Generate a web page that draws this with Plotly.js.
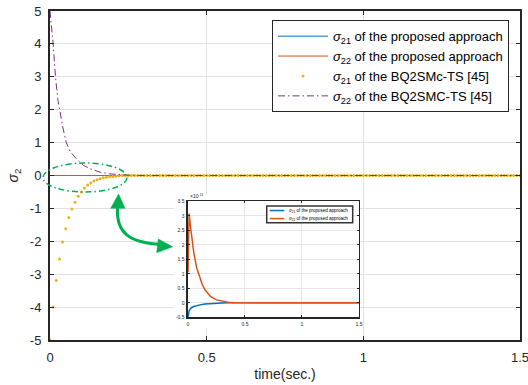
<!DOCTYPE html>
<html>
<head>
<meta charset="utf-8">
<script src="https://cdn.plot.ly/plotly-3.0.1.min.js"></script>
<style>
  html, body { margin: 0; padding: 0; background: #ffffff; }
  #chart { width: 528px; height: 385px; }
</style>
</head>
<body>
<div id="chart"></div>
<script>
// ---- proposed approach (values in units of 1e-11) ----
const tProp      = [0, 0.005, 0.01, 0.02, 0.03, 0.05, 0.075, 0.1, 0.125, 0.15, 0.2, 0.25, 0.3, 0.35, 0.4, 0.5, 0.75, 1.0, 1.25, 1.5];
const sig21Prop  = [-0.5, -0.35, -0.28, -0.21, -0.17, -0.13, -0.1, -0.075, -0.055, -0.04, -0.02, -0.01, -0.004, 0, 0, 0, 0, 0, 0, 0];
const sig22Prop  = [1.05, 2.6, 3.08, 2.7, 2.35, 1.75, 1.22, 0.9, 0.63, 0.44, 0.21, 0.1, 0.05, 0.02, 0.01, 0, 0, 0, 0, 0];
const propScale  = 1e-11;

// ---- BQ2SMC-TS [45] ----
// sigma_21: sampled every 0.01 s; the transient below, zero afterwards up to 1.5 s
const bqStep          = 0.01;
const bqEnd           = 1.5;
const sig21BQTransient = [-5.0, -4.0, -3.19, -2.54, -2.02, -1.62, -1.28, -1.02, -0.81, -0.63, -0.50,
                          -0.38, -0.29, -0.23, -0.17, -0.13, -0.10, -0.07, -0.05, -0.04, -0.03, -0.02, -0.01];
// sigma_22: dash-dot curve
const tBQ22   = [0, 0.005, 0.01, 0.0175, 0.025, 0.031, 0.04, 0.052, 0.065, 0.085, 0.108, 0.13, 0.16, 0.19, 0.215, 0.25, 0.3, 1.5];
const sig22BQ = [5.0, 4.5, 4.0, 3.0, 2.3, 2.0, 1.5, 1.0, 0.72, 0.5, 0.3, 0.2, 0.1, 0.05, 0.03, 0.01, 0, 0];

// ---- ticks ----
const xTicks     = [0, 0.5, 1, 1.5];
const xTickText  = ['0', '0.5', '1', '1.5'];
const yTicks     = [-5, -4, -3, -2, -1, 0, 1, 2, 3, 4, 5];
const yTickText  = ['-5', '-4', '-3', '-2', '-1', '0', '1', '2', '3', '4', '5'];
const insetXTicks    = [0, 0.5, 1, 1.5];
const insetXTickText = ['0', '0.5', '1', '1.5'];
const insetYTicks    = [-0.5, 0, 0.5, 1, 1.5, 2, 2.5, 3, 3.5];
const insetYTickText = ['-0.5', '0', '0.5', '1', '1.5', '2', '2.5', '3', '3.5'];

// ---- legend labels ----
const labels = [
  '<i>σ</i><sub>21</sub> of the proposed approach',
  '<i>σ</i><sub>22</sub> of the proposed approach',
  '<i>σ</i><sub>21</sub> of the BQ2SMc-TS [45]',
  '<i>σ</i><sub>22</sub> of the BQ2SMC-TS [45]'
];

const colBlue   = '#0072bd';
const colOrange = '#d95319';
const colYellow = '#edb120';
const colPurple = '#7e2f8e';
const colGreen  = '#00b050';
const axisCol   = '#262626';
const gridCol   = '#e2e2e2';

// sample grid for the dotted series
const tBQ21 = [];
const sig21BQ = [];
const nBQ = Math.round(bqEnd / bqStep);
for (let i = 0; i <= nBQ; i++) {
  tBQ21.push(+(i * bqStep).toFixed(4));
  sig21BQ.push(i < sig21BQTransient.length ? sig21BQTransient[i] : 0);
}

const traces = [
  { x: tProp, y: sig21Prop.map(v => v * propScale), mode: 'lines', name: labels[0],
    line: { color: colBlue, width: 1 }, legendgroup: 'a', xaxis: 'x', yaxis: 'y' },
  { x: tProp, y: sig22Prop.map(v => v * propScale), mode: 'lines', name: labels[1],
    line: { color: colOrange, width: 1 }, legendgroup: 'b', xaxis: 'x', yaxis: 'y' },
  { x: tBQ21, y: sig21BQ, mode: 'markers', name: labels[2], cliponaxis: false,
    marker: { color: colYellow, size: 3 }, legendgroup: 'c', xaxis: 'x', yaxis: 'y' },
  { x: tBQ22, y: sig22BQ, mode: 'lines', name: labels[3],
    line: { color: colPurple, width: 1, dash: '7px,3px,1.5px,3px' }, legendgroup: 'd', xaxis: 'x', yaxis: 'y' },
  // zoomed view of the proposed approach
  { x: tProp, y: sig21Prop, mode: 'lines', name: labels[0], showlegend: false,
    line: { color: colBlue, width: 1.5 }, xaxis: 'x2', yaxis: 'y2' },
  { x: tProp, y: sig22Prop, mode: 'lines', name: labels[1], showlegend: false,
    line: { color: colOrange, width: 1.5 }, xaxis: 'x2', yaxis: 'y2' }
];

const insetX0 = 0.2936, insetX1 = 0.6574, insetY0 = 0.069, insetY1 = 0.4216;

// small key inside the zoomed view (paper coordinates)
const keyBox   = { x0: 0.4611, x1: 0.644, y0: 0.3565, y1: 0.4073 };
const keyRows  = [0.3935, 0.369];
const keyLineX = [0.4675, 0.4985];
const keyTextX = 0.5035;
const keyCols  = [colBlue, colOrange];

const keyShapes = [
  { type: 'rect', xref: 'paper', yref: 'paper', layer: 'above',
    x0: keyBox.x0, x1: keyBox.x1, y0: keyBox.y0, y1: keyBox.y1,
    fillcolor: '#ffffff', line: { color: '#333333', width: 1.5 } }
];
const keyNotes = [];
keyRows.forEach((ry, i) => {
  keyShapes.push({ type: 'line', xref: 'paper', yref: 'paper', layer: 'above',
    x0: keyLineX[0], x1: keyLineX[1], y0: ry, y1: ry, line: { color: keyCols[i], width: 1.5 } });
  keyNotes.push({ xref: 'paper', yref: 'paper', x: keyTextX, y: ry, xanchor: 'left', yanchor: 'middle',
    text: labels[i], showarrow: false, font: { size: 4.5, color: '#000000' } });
});

const layout = {
  width: 528, height: 385,
  margin: { l: 50, r: 8, t: 11, b: 45 },
  paper_bgcolor: '#ffffff', plot_bgcolor: '#ffffff',
  font: { family: '"Liberation Sans", Arial, sans-serif', color: axisCol, size: 12 },
  showlegend: true,
  xaxis: {
    domain: [0, 1], range: [0, 1.5], tickvals: xTicks, ticktext: xTickText,
    ticks: 'inside', ticklen: 4, tickwidth: 1, tickcolor: axisCol, mirror: 'ticks',
    showline: true, linecolor: axisCol, linewidth: 2, showgrid: true, gridcolor: gridCol, gridwidth: 1,
    zeroline: false, tickfont: { size: 13 }, ticklabelstandoff: 4, ticklabeloverflow: 'allow',
    title: { text: 'time(sec.)', font: { size: 14 }, standoff: 6 }
  },
  yaxis: {
    domain: [0, 1], range: [-5, 5], tickvals: yTicks, ticktext: yTickText,
    ticks: 'inside', ticklen: 4, tickwidth: 1, tickcolor: axisCol, mirror: 'ticks',
    showline: true, linecolor: axisCol, linewidth: 2, showgrid: true, gridcolor: gridCol, gridwidth: 1,
    zeroline: false, tickfont: { size: 13 }, ticklabelstandoff: 4, ticklabeloverflow: 'allow',
    title: { text: '<i>σ</i><sub>2</sub>', font: { size: 14 }, standoff: 8 }
  },
  xaxis2: {
    domain: [insetX0, insetX1], anchor: 'y2', range: [0, 1.5],
    tickvals: insetXTicks, ticktext: insetXTickText,
    ticks: 'inside', ticklen: 2, tickcolor: axisCol, mirror: 'ticks',
    showline: true, linecolor: axisCol, linewidth: 1.5, showgrid: true, gridcolor: '#e6e6e6',
    zeroline: false, tickfont: { size: 5 }, ticklabelstandoff: 1, ticklabeloverflow: 'allow'
  },
  yaxis2: {
    domain: [insetY0, insetY1], anchor: 'x2', range: [-0.5, 3.5],
    tickvals: insetYTicks, ticktext: insetYTickText,
    ticks: 'inside', ticklen: 2, tickcolor: axisCol, mirror: 'ticks',
    showline: true, linecolor: axisCol, linewidth: 1.5, showgrid: true, gridcolor: '#e6e6e6',
    zeroline: false, tickfont: { size: 5 }, ticklabelstandoff: 1, ticklabeloverflow: 'allow'
  },
  legend: {
    x: 0.9766, xanchor: 'right', y: 0.972, yanchor: 'top',
    bgcolor: '#ffffff', bordercolor: axisCol, borderwidth: 1,
    font: { size: 13, color: '#000000' }, itemwidth: 50, tracegroupgap: 0,
    itemclick: false
  },
  annotations: [
    { xref: 'x2 domain', yref: 'y2 domain', x: 0, y: 1, xanchor: 'left', yanchor: 'bottom',
      text: '×10<sup>-11</sup>', showarrow: false, font: { size: 5, color: axisCol } }
  ].concat(keyNotes),
  shapes: [
    // white backing behind the zoomed view (hides main gridlines)
    { type: 'rect', xref: 'x', yref: 'y', layer: 'between', x0: 0.3957, x1: 0.9894, y0: -4.635, y1: -0.562,
      fillcolor: '#ffffff', line: { width: 0 } },
    // highlight ellipse around the convergence region
    { type: 'circle', xref: 'paper', yref: 'paper', layer: 'above',
      x0: -0.0149, x1: 0.1638, y0: 0.4498, y1: 0.538,
      line: { color: colGreen, width: 1.5, dash: '6px,3px,1.5px,3px' } },
    // curved connector
    { type: 'path', xref: 'x', yref: 'y', layer: 'above',
      path: 'M 0.2154,-0.96 C 0.2106,-1.717 0.2489,-2.021 0.3447,-2.091',
      line: { color: colGreen, width: 3 } },
    // arrowhead pointing up
    { type: 'path', xref: 'x', yref: 'y', layer: 'above',
      path: 'M 0.219,-0.562 L 0.1937,-0.997 L 0.2394,-0.997 Z',
      fillcolor: colGreen, line: { color: colGreen, width: 0.5 } },
    // arrowhead pointing right
    { type: 'path', xref: 'x', yref: 'y', layer: 'above',
      path: 'M 0.3916,-2.164 L 0.3456,-1.930 L 0.3405,-2.347 Z',
      fillcolor: colGreen, line: { color: colGreen, width: 0.5 } }
  ].concat(keyShapes)
};

Plotly.newPlot('chart', traces, layout, { displayModeBar: false, staticPlot: true });
</script>
</body>
</html>
